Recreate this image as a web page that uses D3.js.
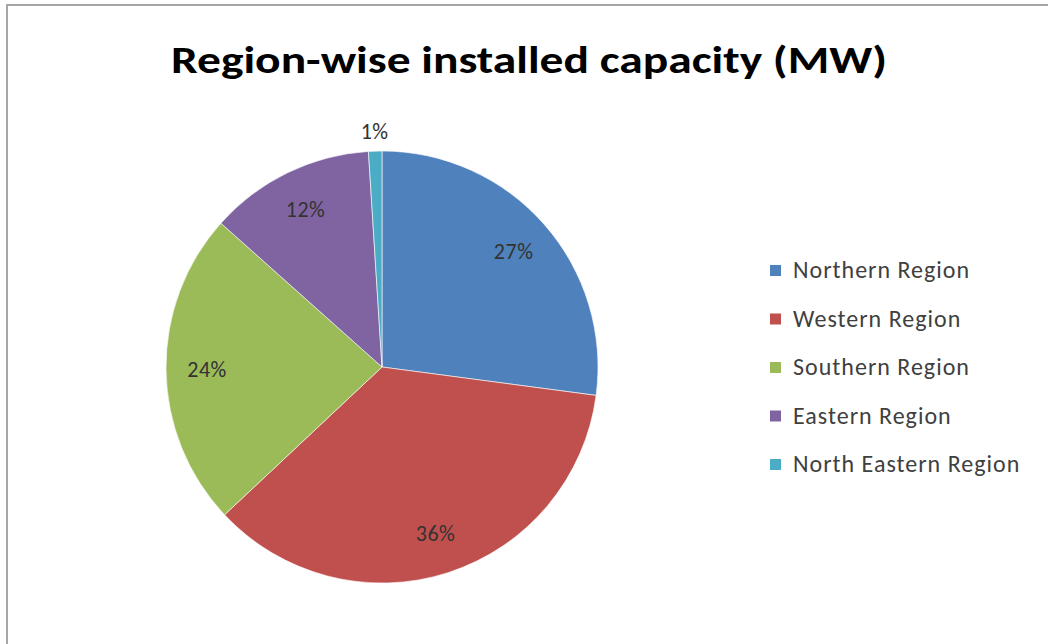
<!DOCTYPE html>
<html>
<head>
<meta charset="utf-8">
<script src="https://cdn.jsdelivr.net/npm/d3@7"></script>
<style>
  body { margin: 0; background: #fff; }
  svg { display: block; }
</style>
</head>
<body>
<svg></svg>
<script>
// data (share of installed capacity, %)
const regions = ["Northern Region", "Western Region", "Southern Region", "Eastern Region", "North Eastern Region"];
const shares = [27.1, 35.9, 23.6, 12.4, 1.0];
const colors = ["#4F81BD", "#C0504D", "#9BBB59", "#8064A2", "#4BACC6"];
const title = "Region-wise installed capacity (MW)";

const W = 1048, H = 644;
const svg = d3.select("svg")
              .attr("width", W)
              .attr("height", H)
              .style("font-family", "Carlito, Lato, 'Open Sans', sans-serif");

// frame (only top and left edges show in the picture)
svg.append("line").attr("x1", 6).attr("y1", 5).attr("x2", W).attr("y2", 5)
   .attr("stroke", "#a6a6a6").attr("stroke-width", 2);
svg.append("line").attr("x1", 7).attr("y1", 4).attr("x2", 7).attr("y2", H)
   .attr("stroke", "#a6a6a6").attr("stroke-width", 2);

svg.append("text")
   .attr("x", 529)
   .attr("y", 73)
   .attr("text-anchor", "middle")
   .attr("font-size", 39)
   .attr("font-weight", "bold")
   .attr("fill", "#000")
   .attr("textLength", 716)
   .attr("lengthAdjust", "spacingAndGlyphs")
   .text(title);

const cx = 382, cy = 367, r = 216;
const data = regions.map((name, i) => ({name: name, value: shares[i], color: colors[i]}));
const total = d3.sum(shares);

const pie = d3.pie().value(d => d.value).sort(null);
const arc = d3.arc().innerRadius(0).outerRadius(r);
const labelArc = d3.arc().innerRadius(r * 0.81).outerRadius(r * 0.81);
const outerArc = d3.arc().innerRadius(r + 20).outerRadius(r + 20);

const g = svg.append("g").attr("transform", `translate(${cx},${cy})`);
const arcs = pie(data);

g.selectAll("path")
 .data(arcs)
 .enter()
 .append("path")
 .attr("d", arc)
 .attr("fill", d => d.data.color)
 .attr("stroke", "#fff")
 .attr("stroke-width", 0.6);

g.selectAll("text.lbl")
 .data(arcs)
 .enter()
 .append("text")
 .attr("class", "lbl")
 .attr("transform", d => {
    // tiny slices get their label outside the pie
    let c = (d.data.value / total < 0.03) ? outerArc.centroid(d) : labelArc.centroid(d);
    return `translate(${c[0]},${c[1]})`;
 })
 .attr("text-anchor", "middle")
 .attr("dy", "0.35em")
 .attr("font-size", 22)
 .attr("letter-spacing", 0.5)
 .attr("fill", "#333")
 .text(d => Math.round(d.data.value / total * 100) + "%");

// legend
const legend = svg.append("g").attr("transform", "translate(770,270)");
const rowH = 48.5;
const item = legend.selectAll("g")
   .data(data)
   .enter()
   .append("g")
   .attr("transform", (d, i) => `translate(0,${i * rowH})`);

item.append("rect")
    .attr("x", 0)
    .attr("y", -5)
    .attr("width", 11)
    .attr("height", 11)
    .attr("fill", d => d.color);

item.append("text")
    .attr("x", 23)
    .attr("dy", "0.35em")
    .attr("font-size", 24)
    .attr("letter-spacing", 1)
    .attr("fill", "#404040")
    .text(d => d.name);
</script>
</body>
</html>
